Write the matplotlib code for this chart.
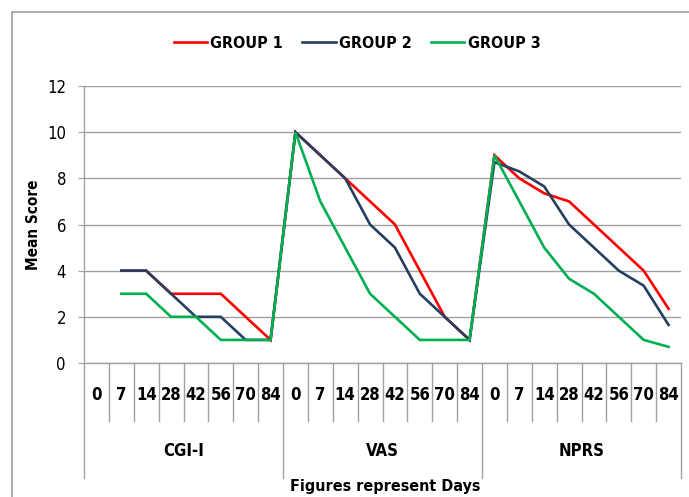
import matplotlib
matplotlib.use("Agg")
import matplotlib.pyplot as plt
import matplotlib.transforms as mtransforms
import numpy as np

plt.rcParams['font.family'] = ['DejaVu Sans']
plt.rcParams['font.stretch'] = 'condensed'

measures = ['CGI-I', 'VAS', 'NPRS']
days = ['0', '7', '14', '28', '42', '56', '70', '84']

nan = np.nan
group1 = [nan, 4, 4, 3, 3, 3, 2, 1,
          10, 9, 8, 7, 6, 4, 2, 1,
          9, 8, 7.35, 7, 6, 5, 4, 2.35]
group2 = [nan, 4, 4, 3, 2, 2, 1, 1,
          10, 9, 8, 6, 5, 3, 2, 1,
          8.7, 8.3, 7.65, 6, 5, 4, 3.35, 1.65]
group3 = [nan, 3, 3, 2, 2, 1, 1, 1,
          10, 7, 5, 3, 2, 1, 1, 1,
          9, 7, 5, 3.65, 3, 2, 1, 0.7]

series = [('GROUP 1', group1, '#FF0000'),
          ('GROUP 2', group2, '#243F60'),
          ('GROUP 3', group3, '#00B050')]

W, H = 689, 497
fig = plt.figure(figsize=(W / 100, H / 100), dpi=100)
# plot area in pixels: x 84..681, y 86..363
ax = fig.add_axes([84 / W, (H - 363) / H, (681 - 84) / W, (363 - 86) / H])

n = len(measures) * len(days)
x = np.arange(n)
for name, vals, col in series:
    ax.plot(x, vals, color=col, lw=1.9, label=name, solid_joinstyle='miter')

grid_col = '#A0A0A0'
ax.set_xlim(-0.5, n - 0.5)
ax.set_ylim(0, 12)
ax.set_yticks(range(0, 13, 2))
ax.yaxis.grid(True, color=grid_col, lw=1)
ax.set_axisbelow(True)
ax.set_xticks([])
for s in ['top', 'right']:
    ax.spines[s].set_visible(False)
for s in ['left', 'bottom']:
    ax.spines[s].set_color(grid_col)
    ax.spines[s].set_linewidth(1)
ax.tick_params(axis='y', length=4, color=grid_col, labelsize=12, pad=9)

ax.set_ylabel('Mean Score', fontsize=11, fontweight='bold', labelpad=4)

# multi-level category axis drawn below the plot
tr = mtransforms.blended_transform_factory(ax.transData, fig.transFigure)
def fy(py):
    return (H - py) / H

for k in range(n + 1):
    xb = k - 0.5
    bottom = 478 if k % len(days) == 0 else 421
    ax.plot([xb, xb], [fy(363), fy(bottom)], color=grid_col, lw=1,
            transform=tr, clip_on=False)

for i in range(n):
    ax.text(i, fy(395), days[i % len(days)], transform=tr, ha='center',
            va='center', fontsize=12, fontweight='bold')
for j, m in enumerate(measures):
    xc = j * len(days) + (len(days) - 1) / 2
    ax.text(xc, fy(451), m, transform=tr, ha='center', va='center',
            fontsize=12, fontweight='bold')

fig.text(385 / W, fy(487), 'Figures represent Days', ha='center',
         va='center', fontsize=11.5, fontweight='bold')

leg = fig.legend(loc='center', bbox_to_anchor=(357 / W, fy(43)), ncol=3,
                 frameon=False, handlelength=2.1, handletextpad=0.2,
                 columnspacing=1.2, prop={'size': 11.5, 'weight': 'bold'})

# outer chart border
fig.add_artist(plt.Line2D([12 / W, 12 / W], [fy(12), 0], color=grid_col,
                          lw=1.2, transform=fig.transFigure))
fig.add_artist(plt.Line2D([12 / W, 1], [fy(12), fy(12)], color=grid_col,
                          lw=1.2, transform=fig.transFigure))

fig.savefig('out.png', dpi=100)
